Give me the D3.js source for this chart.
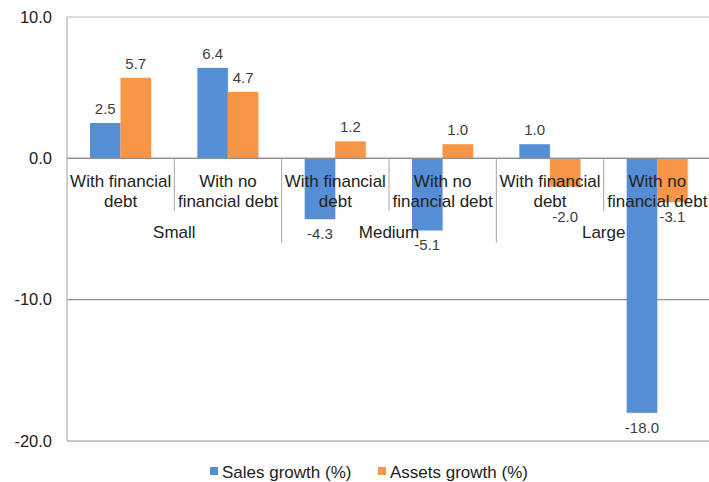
<!DOCTYPE html>
<html>
<head>
<meta charset="utf-8">
<script src="https://cdn.jsdelivr.net/npm/d3@7"></script>
<style>
  body { margin: 0; background: #fff; }
  svg text { font-family: "Liberation Sans", Arial, sans-serif; fill: #333; }
</style>
</head>
<body>
<div id="chart"></div>
<script>
var groups = ["Small", "Medium", "Large"]
var subCats = ["With financial debt", "With no financial debt"]
var subLines = {"With financial debt": ["With financial", "debt"],
  "With no financial debt": ["With no", "financial debt"]}
var seriesNames = ["Sales growth (%)", "Assets growth (%)"]
var salesGrowth = [2.5, 6.4, -4.3, -5.1, 1.0, -18.0]
var assetsGrowth = [5.7, 4.7, 1.2, 1.0, -2.0, -3.1]
var yTicks = [10, 0, -10, -20]
var colors = ["#558ed5", "#f79646"]

var categories = []
groups.forEach(function(g){
  subCats.forEach(function(s){ categories.push({group: g, sub: s, key: g + "|" + s}) })
})
var rows = categories.map(function(c, i){
  return {key: c.key, group: c.group, sub: c.sub, values: [salesGrowth[i], assetsGrowth[i]]}
})

var W = 709, H = 482
var svg = d3.select("#chart").append("svg").attr("width", W).attr("height", H)

var x0 = d3.scaleBand().domain(categories.map(function(c){return c.key})).range([67, 711])
var x1 = d3.scaleBand().domain(d3.range(seriesNames.length)).range([23, 84])
var xg = d3.scaleBand().domain(groups).range([67, 711])
var y = d3.scaleLinear().domain([-20, 10]).range([441, 17])
var fmt = function(d){return d3.format(".1f")(d).replace("−", "-")}

// gridlines
svg.append("g").selectAll("line").data(yTicks).enter().append("line")
  .attr("x1", 67).attr("x2", W)
  .attr("y1", function(d){return y(d)}).attr("y2", function(d){return y(d)})
  .attr("stroke", function(d){return d == 10 ? "#bcbcbc" : "#8f8f8f"}).attr("stroke-width", 1.2)

// y tick labels
svg.append("g").selectAll("text").data(yTicks).enter().append("text")
  .attr("x", 52).attr("y", function(d){return y(d)}).attr("dy", "0.35em")
  .attr("text-anchor", "end").style("font-size", "16.5px").style("fill", "#222")
  .text(fmt)

// bars
var barG = svg.append("g").selectAll("g").data(rows).enter().append("g")
  .attr("transform", function(d){return "translate(" + x0(d.key) + ",0)"})
barG.selectAll("rect.shadow").data(function(d){return d.values}).enter().append("rect")
  .attr("class", "shadow")
  .attr("x", function(d, i){return x1(i) + 1})
  .attr("y", function(d){return Math.min(y(d), y(0)) + 1})
  .attr("width", x1.bandwidth())
  .attr("height", function(d){return Math.abs(y(d) - y(0))})
  .attr("fill", "#000").attr("opacity", 0.08)
barG.selectAll("rect.bar").data(function(d){return d.values}).enter().append("rect")
  .attr("class", "bar")
  .attr("x", function(d, i){return x1(i)})
  .attr("y", function(d){return Math.min(y(d), y(0))})
  .attr("width", x1.bandwidth())
  .attr("height", function(d){return Math.abs(y(d) - y(0))})
  .attr("fill", function(d, i){return colors[i]})

// zero line over bars
svg.append("line").attr("x1", 67).attr("x2", W).attr("y1", y(0)).attr("y2", y(0))
  .attr("stroke", "#8f8f8f").attr("stroke-width", 1.2)

// y axis line
svg.append("line").attr("x1", 67).attr("x2", 67).attr("y1", y(10)).attr("y2", y(-20))
  .attr("stroke", "#bcbcbc").attr("stroke-width", 1.5)

// category separators
svg.append("g").selectAll("line").data(categories.slice(1)).enter().append("line")
  .attr("x1", function(d){return x0(d.key)}).attr("x2", function(d){return x0(d.key)})
  .attr("y1", y(0))
  .attr("y2", function(d){return d.sub == subCats[0] ? 243 : 211})
  .attr("stroke", "#a6a6a6").attr("stroke-width", 1)

// value labels (negative ones kept below the category text)
barG.selectAll("text.val").data(function(d){return d.values}).enter().append("text")
  .attr("class", "val")
  .attr("x", function(d, i){return x1(i) + x1.bandwidth() / 2})
  .attr("y", function(d){return d >= 0 ? y(d) - 9 : Math.max(y(d) + 20, 222)})
  .attr("text-anchor", "middle")
  .style("font-size", "15px").style("fill", "#404040")
  .text(fmt)

// category labels (two lines)
var catLab = svg.append("g").selectAll("text").data(categories).enter().append("text")
  .attr("text-anchor", "middle").style("font-size", "17px").style("fill", "#222")
catLab.selectAll("tspan").data(function(d){return subLines[d.sub].map(function(t){return {t: t, k: d.key}})})
  .enter().append("tspan")
  .attr("x", function(d){return x0(d.k) + x0.bandwidth() / 2})
  .attr("y", function(d, i){return 187 + i * 20})
  .text(function(d){return d.t})

// group labels
svg.append("g").selectAll("text").data(groups).enter().append("text")
  .attr("x", function(d){return xg(d) + xg.bandwidth() / 2}).attr("y", 238)
  .attr("text-anchor", "middle").style("font-size", "17px").style("fill", "#222")
  .text(function(d){return d})

// legend
var legX = [210, 378]
var leg = svg.append("g").selectAll("g").data(seriesNames).enter().append("g")
  .attr("transform", function(d, i){return "translate(" + legX[i] + ",467)"})
leg.append("rect").attr("width", 8).attr("height", 8)
  .attr("fill", function(d, i){return colors[i]})
leg.append("text").attr("x", 12).attr("y", 11).style("font-size", "17px").style("fill", "#222")
  .text(function(d){return d})
</script>
</body>
</html>
